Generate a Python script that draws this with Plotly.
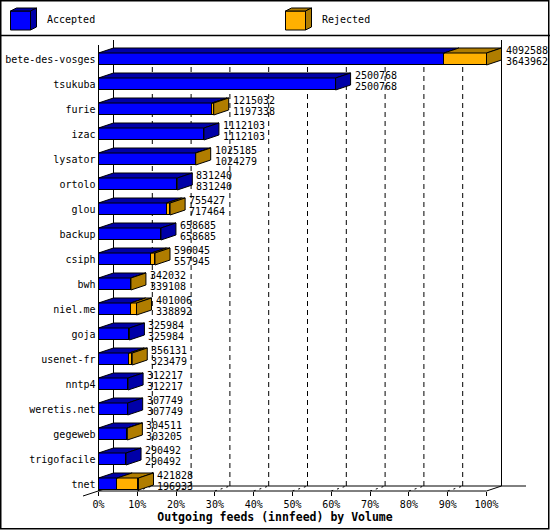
import plotly.graph_objects as go

# ---------------- data ----------------
hosts = ["bete-des-vosges", "tsukuba", "furie", "izac", "lysator", "ortolo", "glou",
         "backup", "csiph", "bwh", "niel.me", "goja", "usenet-fr", "nntp4",
         "weretis.net", "gegeweb", "trigofacile", "tnet"]
offered = [4092588, 2500768, 1215032, 1112103, 1025185, 831240, 755427, 658685,
           596045, 342032, 401006, 325984, 356131, 312217, 307749, 304511, 290492, 421828]
accepted = [3643962, 2500768, 1197338, 1112103, 1024279, 831240, 717464, 658685,
            557945, 339108, 338892, 325984, 323479, 312217, 307749, 303205, 290492, 196933]
tick_pct = [0, 10, 20, 30, 40, 50, 60, 70, 80, 90, 100]
tick_labels = [f"{v}%" for v in tick_pct]
series_names = ["Accepted", "Rejected"]
axis_title = "Outgoing feeds (innfeed) by Volume"

# ---------------- style / geometry ----------------
W, H = 550, 530
BLUE, DBLUE = "#0000FF", "#0000A8"
ORANGE, DORANGE = "#FFB000", "#B07D00"
FONT = "DejaVu Sans Mono"

X0PX, X100PX = 98.5, 486.5           # pixel positions of 0% and 100% (front)
PPP = (X100PX - X0PX) / 100.0         # pixels per percent
ROW0PX, ROWSTEP = 59.0, 25.0          # pixel centre of first row, row pitch
xr = [(0 - X0PX) / PPP, (W - X0PX) / PPP]
yr = [(H - ROW0PX) / ROWSTEP, (0 - ROW0PX) / ROWSTEP]
DX = 15 / PPP                         # depth offset in % units
DY = 5 / ROWSTEP                      # depth offset in row units
HH = 6 / ROWSTEP                      # half bar height

maxv = max(offered)
acc_pct = [a / maxv * 100 for a in accepted]
tot_pct = [o / maxv * 100 for o in offered]
rej_pct = [t - a for t, a in zip(tot_pct, acc_pct)]
idx = list(range(len(hosts)))

def py2row(py):
    return (py - ROW0PX) / ROWSTEP

def px2pct(px):
    return (px - X0PX) / PPP

fig = go.Figure()
fig.add_trace(go.Bar(y=idx, x=acc_pct, orientation="h", width=2 * HH,
                     marker=dict(color=BLUE, line=dict(color="black", width=1)),
                     name=series_names[0]))
fig.add_trace(go.Bar(y=idx, x=rej_pct, orientation="h", width=2 * HH,
                     marker=dict(color=ORANGE, line=dict(color="black", width=1)),
                     name=series_names[1]))

shapes = []
def line(x0, y0, x1, y1, dash="solid", layer="below", width=1):
    shapes.append(dict(type="line", xref="x", yref="y", x0=x0, y0=y0, x1=x1, y1=y1,
                       line=dict(color="black", width=width, dash=dash), layer=layer))

def poly(pts, fill):
    p = "M " + " L ".join(f"{x},{y}" for x, y in pts) + " Z"
    shapes.append(dict(type="path", xref="x", yref="y", path=p, fillcolor=fill,
                       line=dict(color="black", width=1), layer="above"))

top_back = py2row(40)
base_front = py2row(491)
base_back = py2row(486)
# back wall grid
line(DX, top_back, DX, base_back)
for v in tick_pct[1:-1]:
    line(v + DX, py2row(49), v + DX, base_back, dash="5px,4px")
    line(v, base_front, v + DX, base_back, dash="2px,4px")
line(100 + DX, top_back, 100 + DX, base_back)
line(DX, base_back, px2pct(526), base_back)
# front axis frame
line(0, py2row(45), 0, base_front)
line(0, base_front, 100, base_front)
line(100, base_front, 100 + DX, base_back)
line(px2pct(83), py2row(496), DX, base_back)

# 3D faces of bars
for i in idx:
    a, t = acc_pct[i], tot_pct[i]
    yt, yb = i - HH, i + HH
    poly([(0, yt), (DX, yt - DY), (a + DX, yt - DY), (a, yt)], DBLUE)
    if t > a:
        poly([(a, yt), (a + DX, yt - DY), (t + DX, yt - DY), (t, yt)], DORANGE)
        poly([(t, yt), (t + DX, yt - DY), (t + DX, yb - DY), (t, yb)], DORANGE)
    else:
        poly([(a, yt), (a + DX, yt - DY), (a + DX, yb - DY), (a, yb)], DBLUE)

annotations = []
for i in idx:
    for txt, dy in ((str(offered[i]), -8.5), (str(accepted[i]), 2.5)):
        annotations.append(dict(x=tot_pct[i] + DX, y=i + dy / ROWSTEP, xref="x", yref="y",
                                text=txt, showarrow=False, xanchor="left", yanchor="middle",
                                xshift=2, font=dict(family=FONT, size=10, color="black")))

# ---------------- legend (drawn cubes) ----------------
def pp(px, py):
    return px / W, 1 - py / H

def paper_poly(pts, fill):
    p = "M " + " L ".join("{},{}".format(*pp(x, y)) for x, y in pts) + " Z"
    shapes.append(dict(type="path", xref="paper", yref="paper", path=p, fillcolor=fill,
                       line=dict(color="black", width=1), layer="above"))

for (lx, name, c, dc) in ((10.5, series_names[0], BLUE, DBLUE), (285.5, series_names[1], ORANGE, DORANGE)):
    paper_poly([(lx, 11), (lx + 20, 11), (lx + 20, 30), (lx, 30)], c)
    paper_poly([(lx, 11), (lx + 6, 8), (lx + 26, 8), (lx + 20, 11)], dc)
    paper_poly([(lx + 20, 11), (lx + 26, 8), (lx + 26, 27), (lx + 20, 30)], dc)
    ax_, ay_ = pp(lx + 34, 20)
    annotations.append(dict(x=ax_, y=ay_, xref="paper", yref="paper", text=name,
                            showarrow=False, xanchor="left", yanchor="middle",
                            font=dict(family=FONT, size=10, color="black")))

# separator and border
x0p, y0p = pp(0, 35.5)
x1p, _ = pp(W, 35.5)
shapes.append(dict(type="line", xref="paper", yref="paper", x0=x0p, y0=y0p, x1=x1p, y1=y0p,
                   line=dict(color="black", width=1.5)))
bx0, by0 = pp(0.75, 0.75)
bx1, by1 = pp(548.75, 528.75)
shapes.append(dict(type="rect", xref="paper", yref="paper", x0=bx0, y0=by1, x1=bx1, y1=by0,
                   line=dict(color="black", width=1.5)))

fig.update_layout(
    width=W, height=H, autosize=False,
    margin=dict(l=0, r=0, t=0, b=0, pad=0),
    paper_bgcolor="white", plot_bgcolor="white",
    barmode="stack", bargap=0, showlegend=False,
    shapes=shapes, annotations=annotations,
    font=dict(family=FONT, size=10, color="black"),
    xaxis=dict(range=xr, domain=[0, 1], anchor="free", position=1 - 491 / H,
               tickvals=tick_pct, ticktext=tick_labels, ticks="outside", ticklen=4,
               tickcolor="black", showgrid=False, zeroline=False, showline=False,
               automargin=False, fixedrange=True,
               tickfont=dict(family=FONT, size=10, color="black"),
               title=dict(text="<b>" + axis_title + "</b>", standoff=3,
                          font=dict(family=FONT, size=11.5, color="black"))),
    yaxis=dict(range=yr, domain=[0, 1], anchor="free", position=X0PX / W,
               tickvals=idx, ticktext=hosts, ticks="", showgrid=False, zeroline=False,
               showline=False, automargin=False, fixedrange=True, ticklabelstandoff=3,
               tickfont=dict(family=FONT, size=10, color="black")),
)

fig.write_html("out.html", config={"displayModeBar": False},
               post_script="document.body.style.margin='0';document.body.style.overflow='hidden';")
